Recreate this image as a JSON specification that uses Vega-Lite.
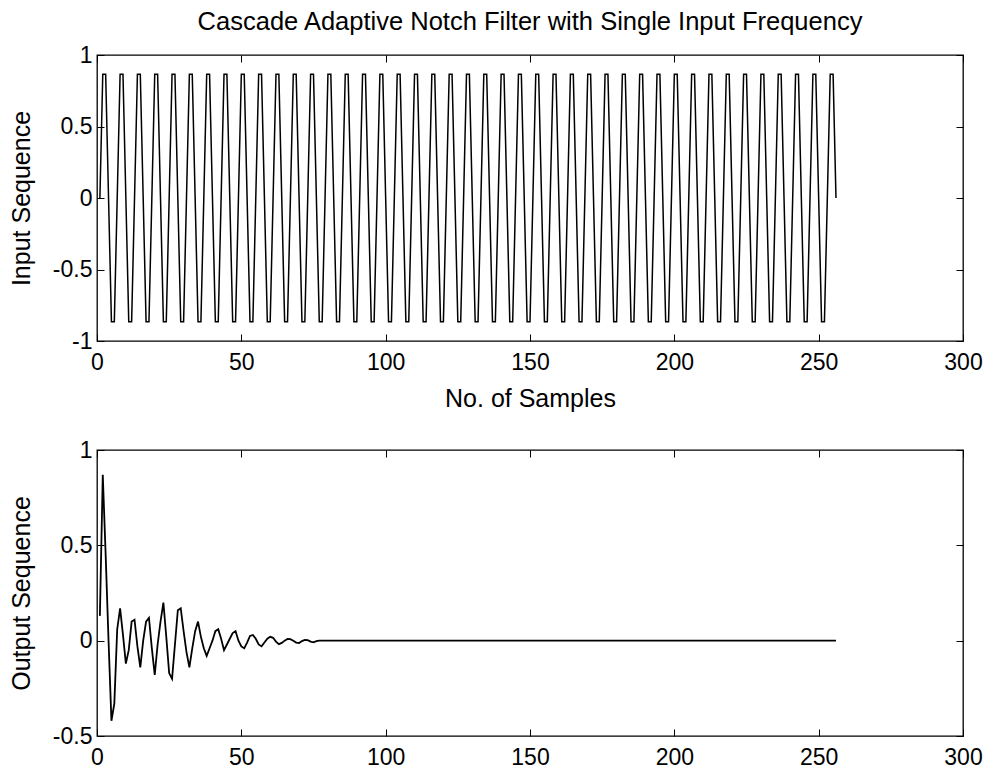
{
 "$schema": "https://vega.github.io/schema/vega-lite/v6.json",
 "padding": {"left": 8, "top": 8, "right": 20, "bottom": 0},
 "background": "white",
 "data": {"values": [
{"n":1,"input":0,"output":0.13},{"n":2,"input":0.866,"output":0.87},{"n":3,"input":0.866,"output":0.45},{"n":4,"input":0,"output":0},{"n":5,"input":-0.866,"output":-0.42},{"n":6,"input":-0.866,"output":-0.33},
{"n":7,"input":0,"output":0.06},{"n":8,"input":0.866,"output":0.17},{"n":9,"input":0.866,"output":0.03},{"n":10,"input":0,"output":-0.12},{"n":11,"input":-0.866,"output":-0.05},{"n":12,"input":-0.866,"output":0.10},
{"n":13,"input":0,"output":0.11},{"n":14,"input":0.866,"output":-0.03},{"n":15,"input":0.866,"output":-0.14},{"n":16,"input":0,"output":0},{"n":17,"input":-0.866,"output":0.10},{"n":18,"input":-0.866,"output":0.12},
{"n":19,"input":0,"output":-0.04},{"n":20,"input":0.866,"output":-0.18},{"n":21,"input":0.866,"output":-0.02},{"n":22,"input":0,"output":0.10},{"n":23,"input":-0.866,"output":0.20},{"n":24,"input":-0.866,"output":0.02},
{"n":25,"input":0,"output":-0.17},{"n":26,"input":0.866,"output":-0.20},{"n":27,"input":0.866,"output":-0.02},{"n":28,"input":0,"output":0.16},{"n":29,"input":-0.866,"output":0.17},{"n":30,"input":-0.866,"output":0.05},
{"n":31,"input":0,"output":-0.06},{"n":32,"input":0.866,"output":-0.14},{"n":33,"input":0.866,"output":-0.04},{"n":34,"input":0,"output":0.05},{"n":35,"input":-0.866,"output":0.10},{"n":36,"input":-0.866,"output":0.02},
{"n":37,"input":0,"output":-0.04},{"n":38,"input":0.866,"output":-0.08},{"n":39,"input":0.866,"output":-0.04},{"n":40,"input":0,"output":0},{"n":41,"input":-0.866,"output":0.05},{"n":42,"input":-0.866,"output":0.06},
{"n":43,"input":0,"output":0.01},{"n":44,"input":0.866,"output":-0.05},{"n":45,"input":0.866,"output":-0.02},{"n":46,"input":0,"output":0.01},{"n":47,"input":-0.866,"output":0.04},{"n":48,"input":-0.866,"output":0.05},
{"n":49,"input":0,"output":0},{"n":50,"input":0.866,"output":-0.03},{"n":51,"input":0.866,"output":-0.04},{"n":52,"input":0,"output":-0.01},{"n":53,"input":-0.866,"output":0.025},{"n":54,"input":-0.866,"output":0.03},
{"n":55,"input":0,"output":0.01},{"n":56,"input":0.866,"output":-0.02},{"n":57,"input":0.866,"output":-0.03},{"n":58,"input":0,"output":-0.01},{"n":59,"input":-0.866,"output":0.01},{"n":60,"input":-0.866,"output":0.02},
{"n":61,"input":0,"output":0.015},{"n":62,"input":0.866,"output":-0.005},{"n":63,"input":0.866,"output":-0.018},{"n":64,"input":0,"output":-0.012},{"n":65,"input":-0.866,"output":0},{"n":66,"input":-0.866,"output":0.009},
{"n":67,"input":0,"output":0.008},{"n":68,"input":0.866,"output":0},{"n":69,"input":0.866,"output":-0.01},{"n":70,"input":0,"output":-0.012},{"n":71,"input":-0.866,"output":-0.002},{"n":72,"input":-0.866,"output":0.004},
{"n":73,"input":0,"output":0.003},{"n":74,"input":0.866,"output":-0.005},{"n":75,"input":0.866,"output":-0.009},{"n":76,"input":0,"output":-0.003},{"n":77,"input":-0.866,"output":0},{"n":78,"input":-0.866,"output":0},
{"n":79,"input":0,"output":0},{"n":80,"input":0.866,"output":0},{"n":81,"input":0.866,"output":0},{"n":82,"input":0,"output":0},{"n":83,"input":-0.866,"output":0},{"n":84,"input":-0.866,"output":0},
{"n":85,"input":0,"output":0},{"n":86,"input":0.866,"output":0},{"n":87,"input":0.866,"output":0},{"n":88,"input":0,"output":0},{"n":89,"input":-0.866,"output":0},{"n":90,"input":-0.866,"output":0},
{"n":91,"input":0,"output":0},{"n":92,"input":0.866,"output":0},{"n":93,"input":0.866,"output":0},{"n":94,"input":0,"output":0},{"n":95,"input":-0.866,"output":0},{"n":96,"input":-0.866,"output":0},
{"n":97,"input":0,"output":0},{"n":98,"input":0.866,"output":0},{"n":99,"input":0.866,"output":0},{"n":100,"input":0,"output":0},{"n":101,"input":-0.866,"output":0},{"n":102,"input":-0.866,"output":0},
{"n":103,"input":0,"output":0},{"n":104,"input":0.866,"output":0},{"n":105,"input":0.866,"output":0},{"n":106,"input":0,"output":0},{"n":107,"input":-0.866,"output":0},{"n":108,"input":-0.866,"output":0},
{"n":109,"input":0,"output":0},{"n":110,"input":0.866,"output":0},{"n":111,"input":0.866,"output":0},{"n":112,"input":0,"output":0},{"n":113,"input":-0.866,"output":0},{"n":114,"input":-0.866,"output":0},
{"n":115,"input":0,"output":0},{"n":116,"input":0.866,"output":0},{"n":117,"input":0.866,"output":0},{"n":118,"input":0,"output":0},{"n":119,"input":-0.866,"output":0},{"n":120,"input":-0.866,"output":0},
{"n":121,"input":0,"output":0},{"n":122,"input":0.866,"output":0},{"n":123,"input":0.866,"output":0},{"n":124,"input":0,"output":0},{"n":125,"input":-0.866,"output":0},{"n":126,"input":-0.866,"output":0},
{"n":127,"input":0,"output":0},{"n":128,"input":0.866,"output":0},{"n":129,"input":0.866,"output":0},{"n":130,"input":0,"output":0},{"n":131,"input":-0.866,"output":0},{"n":132,"input":-0.866,"output":0},
{"n":133,"input":0,"output":0},{"n":134,"input":0.866,"output":0},{"n":135,"input":0.866,"output":0},{"n":136,"input":0,"output":0},{"n":137,"input":-0.866,"output":0},{"n":138,"input":-0.866,"output":0},
{"n":139,"input":0,"output":0},{"n":140,"input":0.866,"output":0},{"n":141,"input":0.866,"output":0},{"n":142,"input":0,"output":0},{"n":143,"input":-0.866,"output":0},{"n":144,"input":-0.866,"output":0},
{"n":145,"input":0,"output":0},{"n":146,"input":0.866,"output":0},{"n":147,"input":0.866,"output":0},{"n":148,"input":0,"output":0},{"n":149,"input":-0.866,"output":0},{"n":150,"input":-0.866,"output":0},
{"n":151,"input":0,"output":0},{"n":152,"input":0.866,"output":0},{"n":153,"input":0.866,"output":0},{"n":154,"input":0,"output":0},{"n":155,"input":-0.866,"output":0},{"n":156,"input":-0.866,"output":0},
{"n":157,"input":0,"output":0},{"n":158,"input":0.866,"output":0},{"n":159,"input":0.866,"output":0},{"n":160,"input":0,"output":0},{"n":161,"input":-0.866,"output":0},{"n":162,"input":-0.866,"output":0},
{"n":163,"input":0,"output":0},{"n":164,"input":0.866,"output":0},{"n":165,"input":0.866,"output":0},{"n":166,"input":0,"output":0},{"n":167,"input":-0.866,"output":0},{"n":168,"input":-0.866,"output":0},
{"n":169,"input":0,"output":0},{"n":170,"input":0.866,"output":0},{"n":171,"input":0.866,"output":0},{"n":172,"input":0,"output":0},{"n":173,"input":-0.866,"output":0},{"n":174,"input":-0.866,"output":0},
{"n":175,"input":0,"output":0},{"n":176,"input":0.866,"output":0},{"n":177,"input":0.866,"output":0},{"n":178,"input":0,"output":0},{"n":179,"input":-0.866,"output":0},{"n":180,"input":-0.866,"output":0},
{"n":181,"input":0,"output":0},{"n":182,"input":0.866,"output":0},{"n":183,"input":0.866,"output":0},{"n":184,"input":0,"output":0},{"n":185,"input":-0.866,"output":0},{"n":186,"input":-0.866,"output":0},
{"n":187,"input":0,"output":0},{"n":188,"input":0.866,"output":0},{"n":189,"input":0.866,"output":0},{"n":190,"input":0,"output":0},{"n":191,"input":-0.866,"output":0},{"n":192,"input":-0.866,"output":0},
{"n":193,"input":0,"output":0},{"n":194,"input":0.866,"output":0},{"n":195,"input":0.866,"output":0},{"n":196,"input":0,"output":0},{"n":197,"input":-0.866,"output":0},{"n":198,"input":-0.866,"output":0},
{"n":199,"input":0,"output":0},{"n":200,"input":0.866,"output":0},{"n":201,"input":0.866,"output":0},{"n":202,"input":0,"output":0},{"n":203,"input":-0.866,"output":0},{"n":204,"input":-0.866,"output":0},
{"n":205,"input":0,"output":0},{"n":206,"input":0.866,"output":0},{"n":207,"input":0.866,"output":0},{"n":208,"input":0,"output":0},{"n":209,"input":-0.866,"output":0},{"n":210,"input":-0.866,"output":0},
{"n":211,"input":0,"output":0},{"n":212,"input":0.866,"output":0},{"n":213,"input":0.866,"output":0},{"n":214,"input":0,"output":0},{"n":215,"input":-0.866,"output":0},{"n":216,"input":-0.866,"output":0},
{"n":217,"input":0,"output":0},{"n":218,"input":0.866,"output":0},{"n":219,"input":0.866,"output":0},{"n":220,"input":0,"output":0},{"n":221,"input":-0.866,"output":0},{"n":222,"input":-0.866,"output":0},
{"n":223,"input":0,"output":0},{"n":224,"input":0.866,"output":0},{"n":225,"input":0.866,"output":0},{"n":226,"input":0,"output":0},{"n":227,"input":-0.866,"output":0},{"n":228,"input":-0.866,"output":0},
{"n":229,"input":0,"output":0},{"n":230,"input":0.866,"output":0},{"n":231,"input":0.866,"output":0},{"n":232,"input":0,"output":0},{"n":233,"input":-0.866,"output":0},{"n":234,"input":-0.866,"output":0},
{"n":235,"input":0,"output":0},{"n":236,"input":0.866,"output":0},{"n":237,"input":0.866,"output":0},{"n":238,"input":0,"output":0},{"n":239,"input":-0.866,"output":0},{"n":240,"input":-0.866,"output":0},
{"n":241,"input":0,"output":0},{"n":242,"input":0.866,"output":0},{"n":243,"input":0.866,"output":0},{"n":244,"input":0,"output":0},{"n":245,"input":-0.866,"output":0},{"n":246,"input":-0.866,"output":0},
{"n":247,"input":0,"output":0},{"n":248,"input":0.866,"output":0},{"n":249,"input":0.866,"output":0},{"n":250,"input":0,"output":0},{"n":251,"input":-0.866,"output":0},{"n":252,"input":-0.866,"output":0},
{"n":253,"input":0,"output":0},{"n":254,"input":0.866,"output":0},{"n":255,"input":0.866,"output":0},{"n":256,"input":0,"output":0}
 ]},
 "config": {
  "font": "Liberation Sans",
  "view": {"stroke": "black", "strokeWidth": 1.3},
  "axis": {"domain": false, "grid": false, "ticks": true, "tickSize": -7, "tickColor": "black", "tickWidth": 1,
           "labelColor": "black", "labelFont": "Liberation Sans", "labelFontSize": 23,
           "labelFlush": false, "labelOverlap": false, "labelBound": false,
           "labelExpr": "'' + datum.value",
           "titleFont": "Liberation Sans", "titleFontSize": 25, "titleFontWeight": "normal", "titleColor": "black"},
  "axisX": {"labelPadding": 17},
  "axisY": {"labelPadding": 12}
 },
 "spacing": 26,
 "vconcat": [
  {
   "width": 866, "height": 286,
   "title": {"text": "Cascade Adaptive Notch Filter with Single Input Frequency", "fontSize": 25.5, "fontWeight": "normal", "font": "Liberation Sans", "color": "black", "offset": 9},
   "layer": [
    {"mark": {"type": "line", "color": "black", "strokeWidth": 1.5},
     "encoding": {
      "x": {"field": "n", "type": "quantitative", "scale": {"domain": [0, 300], "nice": false, "zero": false},
            "axis": {"orient": "bottom", "values": [0, 50, 100, 150, 200, 250, 300], "title": "No. of Samples", "titlePadding": 12}},
      "y": {"field": "input", "type": "quantitative", "scale": {"domain": [-1, 1], "nice": false},
            "axis": {"orient": "left", "values": [-1, -0.5, 0, 0.5, 1], "title": "Input Sequence", "titlePadding": 18}}
     }},
    {"mark": {"type": "line", "opacity": 0},
     "encoding": {
      "x": {"field": "n", "type": "quantitative", "axis": {"orient": "top", "values": [0, 50, 100, 150, 200, 250, 300], "labels": false, "title": null}},
      "y": {"field": "input", "type": "quantitative", "axis": {"orient": "right", "values": [-1, -0.5, 0, 0.5, 1], "labels": false, "title": null}}
     }}
   ],
   "resolve": {"axis": {"x": "independent", "y": "independent"}}
  },
  {
   "width": 866, "height": 286,
   "layer": [
    {"mark": {"type": "line", "color": "black", "strokeWidth": 1.8},
     "encoding": {
      "x": {"field": "n", "type": "quantitative", "scale": {"domain": [0, 300], "nice": false, "zero": false},
            "axis": {"orient": "bottom", "values": [0, 50, 100, 150, 200, 250, 300], "title": null}},
      "y": {"field": "output", "type": "quantitative", "scale": {"domain": [-0.5, 1], "nice": false, "zero": false},
            "axis": {"orient": "left", "values": [-0.5, 0, 0.5, 1], "title": "Output Sequence", "titlePadding": 18}}
     }},
    {"mark": {"type": "line", "opacity": 0},
     "encoding": {
      "x": {"field": "n", "type": "quantitative", "axis": {"orient": "top", "values": [0, 50, 100, 150, 200, 250, 300], "labels": false, "title": null}},
      "y": {"field": "output", "type": "quantitative", "axis": {"orient": "right", "values": [-0.5, 0, 0.5, 1], "labels": false, "title": null}}
     }}
   ],
   "resolve": {"axis": {"x": "independent", "y": "independent"}}
  }
 ]
}
